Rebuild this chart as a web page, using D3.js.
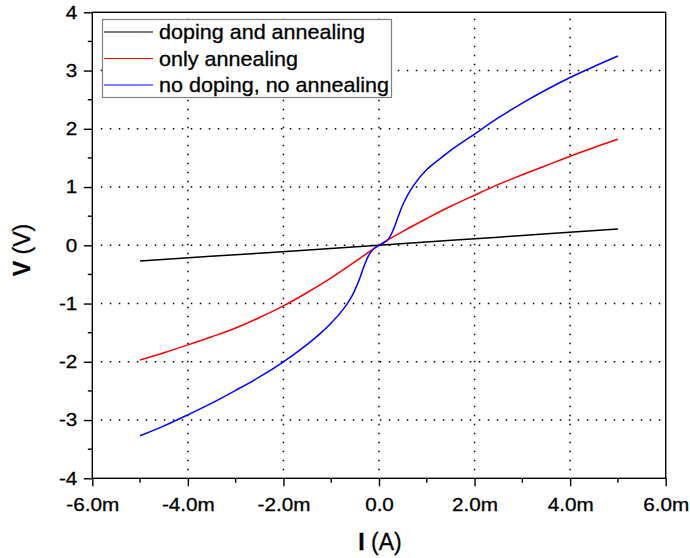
<!DOCTYPE html>
<html>
<head>
<meta charset="utf-8">
<script src="https://cdn.jsdelivr.net/npm/d3@7"></script>
<style>
  html, body { margin: 0; padding: 0; background: #fff; }
  svg { display: block; font-family: "Liberation Sans", Arial, sans-serif; }
  svg text { stroke: #000; stroke-width: 0.3px; }
</style>
</head>
<body>
<svg id="chart" width="690" height="558"></svg>
<script>
// Current in mA, voltage in V
const currentBlack = [-5, -2.5, 0, 2.5, 5];
const voltBlack    = [-0.27, -0.135, 0, 0.14, 0.28];

const currentRed = [-5, -4.5, -4, -3.5, -3, -2.5, -2, -1.5, -1, -0.5, -0.2, 0, 0.2, 0.5, 1, 1.5, 2, 2.5, 3, 3.5, 4, 4.5, 5];
const voltRed    = [-1.97, -1.845, -1.71, -1.57, -1.42, -1.24, -1.04, -0.81, -0.56, -0.28, -0.11, 0, 0.1, 0.24, 0.46, 0.67, 0.86, 1.045, 1.21, 1.37, 1.53, 1.68, 1.82];

const currentBlue = [-5, -4.5, -4, -3.5, -3, -2.5, -2, -1.5, -1.25, -1, -0.75, -0.6, -0.5, -0.4, -0.3, -0.2, -0.1, 0, 0.1, 0.2, 0.3, 0.4, 0.5, 0.7, 1, 1.3, 1.5, 2, 2.5, 3, 3.5, 4, 4.5, 5];
const voltBlue    = [-3.27, -3.1, -2.91, -2.71, -2.49, -2.26, -2.0, -1.7, -1.53, -1.335, -1.1, -0.92, -0.76, -0.56, -0.33, -0.15, -0.05, 0, 0.04, 0.11, 0.27, 0.49, 0.7, 1.0, 1.3, 1.5, 1.63, 1.91, 2.19, 2.44, 2.67, 2.88, 3.07, 3.25];

const seriesNames  = ["doping and annealing", "only annealing", "no doping, no annealing"];
const seriesColors = ["#000000", "#ff0000", "#0000ff"];

const xTicks = [-6, -4, -2, 0, 2, 4, 6];
const xTickLabels = ["-6.0m", "-4.0m", "-2.0m", "0.0", "2.0m", "4.0m", "6.0m"];
const yTicks = [-4, -3, -2, -1, 0, 1, 2, 3, 4];
const yTickLabels = ["-4", "-3", "-2", "-1", "0", "1", "2", "3", "4"];

const svg = d3.select("#chart");
const plot = { left: 92.3, right: 665.7, top: 12.3, bottom: 478.3 };

const x = d3.scaleLinear().domain([-6, 6]).range([plot.left, plot.right]);
const y = d3.scaleLinear().domain([-4, 4]).range([plot.bottom, plot.top]);

// dotted grid at major ticks
const grid = svg.append("g").attr("stroke", "#000").attr("stroke-width", 1.5)
  .attr("stroke-dasharray", "1.5,7.5");
grid.selectAll("line.gx").data(xTicks.filter(v => v > -6 && v < 6)).join("line")
  .attr("x1", d => x(d)).attr("x2", d => x(d))
  .attr("y1", plot.bottom - 8).attr("y2", plot.top);
grid.selectAll("line.gy").data(yTicks.filter(v => v > -4 && v < 4)).join("line")
  .attr("x1", plot.left + 8.5).attr("x2", plot.right)
  .attr("y1", d => y(d)).attr("y2", d => y(d));

// curves
const series = [
  currentBlack.map((c, i) => [c, voltBlack[i]]),
  currentRed.map((c, i) => [c, voltRed[i]]),
  currentBlue.map((c, i) => [c, voltBlue[i]])
];
const line = d3.line().x(d => x(d[0])).y(d => y(d[1])).curve(d3.curveCatmullRom.alpha(0.5));
svg.append("g").selectAll("path").data(series).join("path")
  .attr("d", line)
  .attr("fill", "none")
  .attr("stroke", (d, i) => seriesColors[i])
  .attr("stroke-width", 1.5);

// frame
svg.append("rect")
  .attr("x", plot.left).attr("y", plot.top)
  .attr("width", plot.right - plot.left).attr("height", plot.bottom - plot.top)
  .attr("fill", "none").attr("stroke", "#000").attr("stroke-width", 1.4);

// x axis
const xAxis = d3.axisBottom(x).tickValues(xTicks)
  .tickFormat((d, i) => xTickLabels[i]).tickSize(8).tickSizeOuter(0).tickPadding(12);
const gx = svg.append("g").attr("transform", `translate(0,${plot.bottom})`).call(xAxis);
gx.select(".domain").remove();
gx.selectAll(".tick line").attr("stroke-width", 1.4);
gx.selectAll(".tick text").attr("font-size", 18).attr("fill", "#000")
  .attr("font-family", "Liberation Sans, Arial, sans-serif")
  .attr("transform", "scale(1.15,1)");
// x minor ticks
svg.append("g").selectAll("line").data([-5, -3, -1, 1, 3, 5]).join("line")
  .attr("x1", d => x(d)).attr("x2", d => x(d))
  .attr("y1", plot.bottom).attr("y2", plot.bottom + 4.5)
  .attr("stroke", "#000").attr("stroke-width", 1.4);

// y axis
const yAxis = d3.axisLeft(y).tickValues(yTicks).tickFormat((d, i) => yTickLabels[i])
  .tickSize(8.5).tickSizeOuter(0).tickPadding(4);
const gy = svg.append("g").attr("transform", `translate(${plot.left},0)`).call(yAxis);
gy.select(".domain").remove();
gy.selectAll(".tick line").attr("stroke-width", 1.4);
gy.selectAll(".tick text").attr("font-size", 18).attr("fill", "#000")
  .attr("font-family", "Liberation Sans, Arial, sans-serif")
  .attr("x", -13)
  .attr("transform", "scale(1.15,1)");
// y minor ticks
svg.append("g").selectAll("line").data([-3.5, -2.5, -1.5, -0.5, 0.5, 1.5, 2.5, 3.5]).join("line")
  .attr("x1", plot.left - 4.5).attr("x2", plot.left)
  .attr("y1", d => y(d)).attr("y2", d => y(d))
  .attr("stroke", "#000").attr("stroke-width", 1.4);

// axis titles
const xt = svg.append("text").attr("x", 380).attr("y", 550)
  .attr("text-anchor", "middle").attr("font-size", 23).attr("fill", "#000");
xt.append("tspan").attr("font-weight", "bold").text("I");
xt.append("tspan").text(" (A)");

const yt = svg.append("text")
  .attr("transform", "translate(30,250) rotate(-90)")
  .attr("text-anchor", "middle").attr("font-size", 23).attr("fill", "#000");
yt.append("tspan").attr("font-weight", "bold").text("V");
yt.append("tspan").text(" (V)");

// legend
const legend = svg.append("g");
legend.append("rect")
  .attr("x", 102.5).attr("y", 19.5).attr("width", 289).attr("height", 78)
  .attr("fill", "#fff").attr("stroke", "#808080").attr("stroke-width", 1.2);
const rows = legend.selectAll("g.row").data(seriesNames).join("g")
  .attr("transform", (d, i) => `translate(0,${32 + i * 26.5})`);
rows.append("line").attr("x1", 104).attr("x2", 153).attr("y1", 0).attr("y2", 0)
  .attr("stroke", (d, i) => seriesColors[i]).attr("stroke-width", 1.2);
rows.append("text")
  .attr("transform", "translate(159,7) scale(1.078,1)")
  .attr("font-size", 20).attr("fill", "#000")
  .text(d => d);
</script>
</body>
</html>
